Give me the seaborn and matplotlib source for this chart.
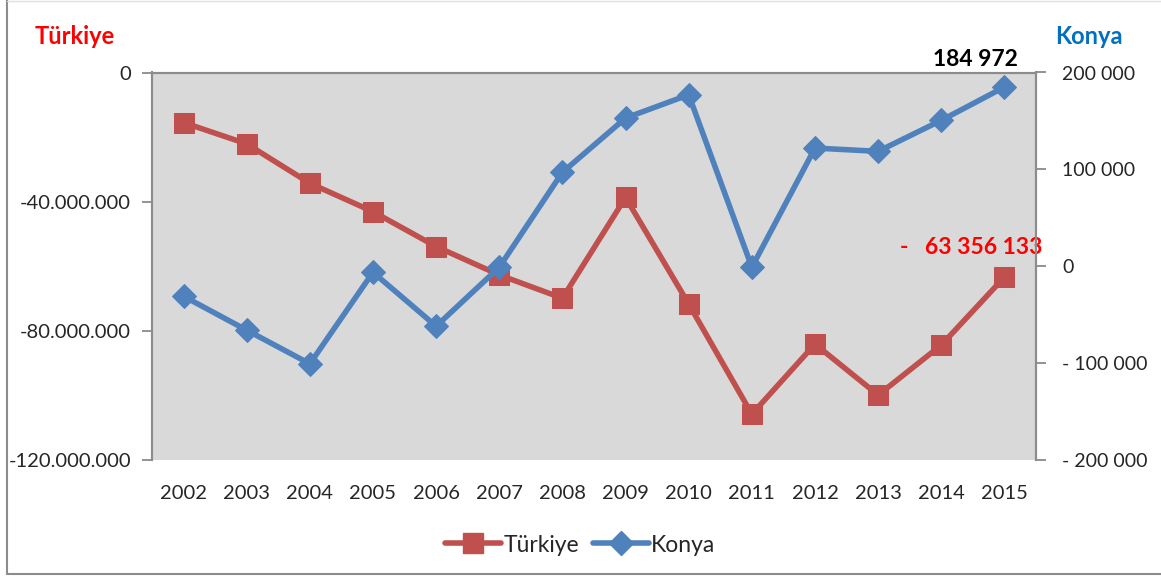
import matplotlib
matplotlib.use("Agg")
import matplotlib.pyplot as plt
from matplotlib.lines import Line2D
import seaborn as sns
import pandas as pd

# Dış ticaret dengesi: Türkiye (bin $) ve Konya (bin $)
years = [2002, 2003, 2004, 2005, 2006, 2007, 2008, 2009, 2010, 2011, 2012, 2013, 2014, 2015]
turkiye = [-15500000, -22100000, -34300000, -43100000, -53900000, -62700000, -69900000,
           -38700000, -71700000, -105800000, -84100000, -99900000, -84400000, -63356133]
konya = [-31000, -66000, -100700, -6200, -61900, -1000, 97000,
         153000, 177000, -1000, 122000, 118600, 150600, 184972]

left_ticks = [0, -40000000, -80000000, -120000000]
left_tick_labels = ["0", "-40.000.000", "-80.000.000", "-120.000.000"]
right_ticks = [200000, 100000, 0, -100000, -200000]
right_tick_labels = ["200 000", "100 000", "0", "- 100 000", "- 200 000"]

red = "#C0504D"
blue = "#4F81BD"

sns.set_theme(style="white")
plt.rcParams["font.family"] = ["Lato", "DejaVu Sans"]

df = pd.DataFrame({"idx": range(len(years)), "Türkiye": turkiye, "Konya": konya})

fig = plt.figure(figsize=(11.61, 5.76), dpi=100)
ax = fig.add_axes([152 / 1161, 1 - 460 / 576, (1036 - 152) / 1161, (460 - 72.5) / 576])
ax.set_facecolor("#D9D9D9")

sns.lineplot(data=df, x="idx", y="Türkiye", ax=ax, color=red, linewidth=4,
             marker="s", markersize=14.5, markeredgecolor=red, zorder=3)
ax.set_ylim(-120000000, 0)
ax.set_xlim(-0.5, len(years) - 0.5)
ax.set_xticks(range(len(years)))
ax.set_xticklabels([str(y) for y in years], fontsize=14.5)
ax.set_yticks(left_ticks)
ax.set_yticklabels(left_tick_labels, fontsize=14.5)
ax.set_xlabel("")
ax.set_ylabel("")
ax.tick_params(axis="x", length=0, pad=18)
ax.tick_params(axis="y", length=7, width=1.2, color="#808080", direction="out", pad=8, left=True)

ax2 = ax.twinx()
sns.lineplot(data=df, x="idx", y="Konya", ax=ax2, color=blue, linewidth=4,
             marker="D", markersize=12, markeredgecolor=blue, zorder=3)
ax2.set_ylim(-200000, 200000)
ax2.set_yticks(right_ticks)
ax2.set_yticklabels(right_tick_labels, fontsize=14)
ax2.set_ylabel("")
ax2.tick_params(axis="y", length=7, width=1.2, color="#808080", direction="out", pad=12, right=True)

for a in (ax, ax2):
    for side in ("left", "right", "top"):
        a.spines[side].set_color("#8C8C8C")
        a.spines[side].set_linewidth(1.5)
    a.spines["bottom"].set_visible(False)
    a.grid(False)

# Değer etiketleri
ax2.annotate(f"{konya[-1]:,}".replace(",", " "), (len(years) - 1, konya[-1]),
             xytext=(-21, 12), textcoords="offset points", ha="center", va="bottom",
             fontsize=16.5, fontweight="bold", color="black")
ax.annotate("-   " + f"{-turkiye[-1]:,}".replace(",", " "), (len(years) - 1, turkiye[-1]),
            xytext=(-24, 14), textcoords="offset points", ha="center", va="bottom",
            fontsize=16.5, fontweight="bold", color="#FF0000")

# Eksen başlıkları
fig.text(35 / 1161, 1 - 37 / 576, "Türkiye", color="#FF0000", fontsize=17,
         fontweight="bold", ha="left", va="center")
fig.text(1123 / 1161, 1 - 37 / 576, "Konya", color="#0070C0", fontsize=17,
         fontweight="bold", ha="right", va="center")

handles = [
    Line2D([], [], color=red, linewidth=4, marker="s", markersize=14.5, markeredgecolor=red),
    Line2D([], [], color=blue, linewidth=4, marker="D", markersize=12, markeredgecolor=blue),
]
fig.legend(handles, ["Türkiye", "Konya"], loc="center", bbox_to_anchor=(580 / 1161, 1 - 545 / 576),
           ncol=2, frameon=False, fontsize=16.5, handlelength=2.45, handletextpad=0.1,
           columnspacing=0.6)

# Grafik alanı çerçevesi
fig.add_artist(Line2D([7 / 1161, 7 / 1161], [1 - 574 / 576, 1], transform=fig.transFigure,
                      color="#8C8C8C", linewidth=1.5))
fig.add_artist(Line2D([7 / 1161, 1], [1 - 574 / 576, 1 - 574 / 576], transform=fig.transFigure,
                      color="#8C8C8C", linewidth=1.5))
fig.add_artist(Line2D([7 / 1161, 1], [0.999, 0.999], transform=fig.transFigure,
                      color="#E0E0E0", linewidth=1))

fig.savefig("out.png", dpi=100, facecolor="white")
